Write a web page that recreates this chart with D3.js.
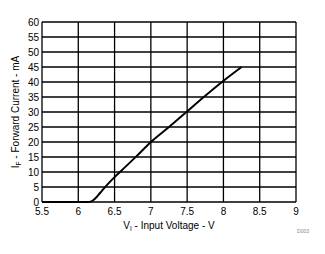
<!DOCTYPE html>
<html>
<head>
<meta charset="utf-8">
<script src="https://cdn.jsdelivr.net/npm/d3@7"></script>
<style>
  body { margin: 0; background: #fff; }
  text { font-family: "Liberation Sans", Arial, sans-serif; fill: #000; }
</style>
</head>
<body>
<svg id="svg"></svg>
<script>
// forward current vs input voltage
var volts   = [5.5, 6.0, 6.15, 6.2, 6.25, 6.3, 6.4, 6.5, 6.6,  6.8,  7.0, 7.25, 7.49, 7.73, 7.98, 8.25];
var current = [0,   0,   0,    0.5, 1.6,  3.0, 5.8, 8.3, 10.6, 15.2, 20,  25,   30,   35,   40,   45];
var xTicks  = [5.5, 6, 6.5, 7, 7.5, 8, 8.5, 9];
var yTicks  = [0, 5, 10, 15, 20, 25, 30, 35, 40, 45, 50, 55, 60];

var outer_width  = 325;
var outer_height = 254;
var plot = {left: 42, top: 22, right: 296, bottom: 202};

var svg = d3.select("#svg")
    .attr("width", outer_width)
    .attr("height", outer_height);

var x = d3.scaleLinear().domain([5.5, 9]).range([plot.left, plot.right]);
var y = d3.scaleLinear().domain([0, 60]).range([plot.bottom, plot.top]);

// grid
svg.append("g").selectAll("line")
    .data(yTicks)
    .enter().append("line")
    .attr("x1", plot.left).attr("x2", plot.right)
    .attr("y1", function(d) { return y(d); })
    .attr("y2", function(d) { return y(d); })
    .attr("stroke", "#000").attr("stroke-width", 1.3);

svg.append("g").selectAll("line")
    .data(xTicks)
    .enter().append("line")
    .attr("y1", plot.top).attr("y2", plot.bottom)
    .attr("x1", function(d) { return x(d); })
    .attr("x2", function(d) { return x(d); })
    .attr("stroke", "#000").attr("stroke-width", 1.3);

// tick labels
svg.append("g").selectAll("text")
    .data(yTicks)
    .enter().append("text")
    .attr("x", plot.left - 3)
    .attr("y", function(d) { return y(d) + 3.5; })
    .attr("text-anchor", "end")
    .style("font-size", "10px")
    .text(function(d) { return d; });

svg.append("g").selectAll("text")
    .data(xTicks)
    .enter().append("text")
    .attr("x", function(d) { return x(d); })
    .attr("y", plot.bottom + 13)
    .attr("text-anchor", "middle")
    .style("font-size", "10px")
    .text(function(d) { return d; });

// curve
var pts = volts.map(function(v, i) { return [v, current[i]]; });
svg.append("path")
    .datum(pts)
    .attr("fill", "none")
    .attr("stroke", "#000")
    .attr("stroke-width", 2)
    .attr("d", d3.line()
        .x(function(d) { return x(d[0]); })
        .y(function(d) { return y(d[1]); })
        .curve(d3.curveMonotoneX));

// axis titles
var xt = svg.append("text")
    .attr("x", (plot.left + plot.right) / 2)
    .attr("y", plot.bottom + 27)
    .attr("text-anchor", "middle")
    .style("font-size", "10px");
xt.append("tspan").text("V");
xt.append("tspan").attr("dy", 2).style("font-size", "6.5px").text("I");
xt.append("tspan").attr("dy", -2).text(" - Input Voltage - V");

var yt = svg.append("text")
    .attr("transform", "translate(19," + ((plot.top + plot.bottom) / 2) + ") rotate(-90)")
    .attr("text-anchor", "middle")
    .style("font-size", "10px");
yt.append("tspan").text("I");
yt.append("tspan").attr("dy", 2).style("font-size", "6.5px").text("F");
yt.append("tspan").attr("dy", -2).text(" - Forward Current - mA");

svg.append("text")
    .attr("x", 309)
    .attr("y", 233)
    .attr("text-anchor", "end")
    .style("font-size", "5px")
    .style("fill", "#888")
    .text("D003");
</script>
</body>
</html>
